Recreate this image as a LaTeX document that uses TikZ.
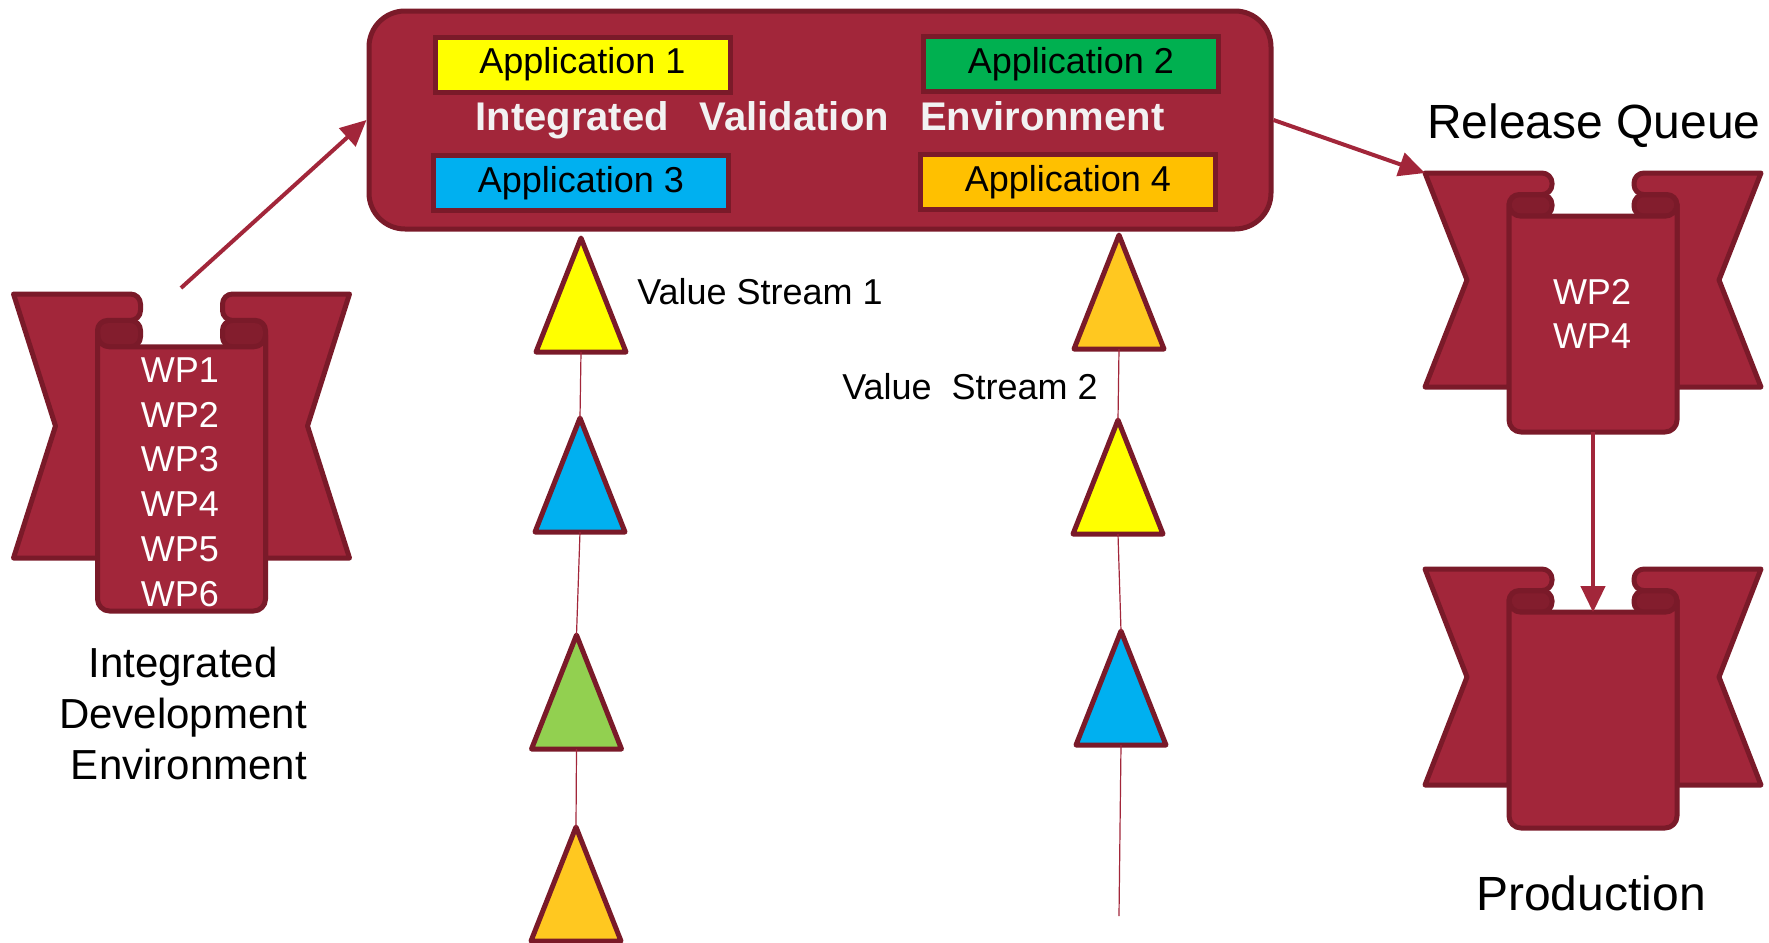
\documentclass[tikz,border=0pt]{standalone}
\usepackage{fontspec}
\setmainfont{Liberation Sans}
\usetikzlibrary{arrows.meta,shapes.geometric}

\definecolor{wine}{HTML}{A2263A}
\definecolor{winedark}{HTML}{7A1A29}
\definecolor{winedeep}{HTML}{831D2D}
\definecolor{appyellow}{HTML}{FFFF00}
\definecolor{appgreen}{HTML}{00B050}
\definecolor{appblue}{HTML}{00B0F0}
\definecolor{apporange}{HTML}{FFC000}
\definecolor{triorange}{HTML}{FFC820}
\definecolor{trigreen}{HTML}{92D050}

% name, centre x, top y, ribbon height, body height
\newcommand{\wpscroll}[5]{
	\pgfmathsetmacro{\curly}{#5/12}
	\pgfmathsetmacro{\fronty}{#5/6}
	\begin{scope}[shift={(#2,#3)}]
		\foreach \sgn in {-1,1} {
			\begin{scope}[xscale=\sgn]
				\draw [scrollline, fill=winedeep, rounded corners=5pt]
					(84,\curly) rectangle (41,\fronty);
				\draw [scrollline, fill=wine]
					(84,#4) -- (168,#4) -- (126,#4/2) -- (168,0)
					[rounded corners=5pt] -- (41,0) -- (41,\curly) -- (84,\curly)
					[sharp corners] -- cycle;
			\end{scope}
		}
		\draw [scrollline, fill=wine]
			(-84,\fronty-12) to [out=-90, in=180] (-72,\fronty) -- (72,\fronty)
			to [out=0, in=-90] (84,\fronty-12)
			[rounded corners=6pt] -- (84,#5) -- (-84,#5)
			[sharp corners] -- cycle;
		\coordinate (#1-nw) at (-168,0);
		\coordinate (#1-north) at (0,\fronty);
		\coordinate (#1-south) at (0,#5);
	\end{scope}
}

\begin{document}
\begin{tikzpicture} [x=0.5pt, y=-0.5pt,
		scrollline/.style = {draw=winedark, line width=2.5pt, line join=round},
		env/.style = {draw=winedark, fill=wine, line width=2.5pt, rounded corners=18pt,
			minimum width=451pt, minimum height=109pt, inner sep=0pt, text=black!5,
			font=\fontsize{20}{24}\selectfont\bfseries},
		app/.style = {draw=winedark, line width=2.5pt, minimum width=147.5pt,
			minimum height=27.5pt, inner sep=0pt, font=\fontsize{18}{22}\selectfont},
		commit/.style = {isosceles triangle, isosceles triangle stretches,
			shape border rotate=90, draw=winedark, line width=2.5pt, line join=round,
			minimum width=45pt, minimum height=57pt, inner sep=0pt, outer sep=0pt, anchor=apex},
		flow/.style = {draw=wine, line width=2pt, -{Triangle[length=13pt, width=12pt]}},
		stream/.style = {draw=wine, line width=0.6pt},
		wplist/.style = {text=white, align=center, font=\fontsize{18}{22.4}\selectfont},
		caption/.style = {align=center, font=\fontsize{24}{29}\selectfont},
		streamname/.style = {font=\fontsize{18}{22}\selectfont}]

	\useasboundingbox (0,0) rectangle (1769,943);

	% scrolls
	\wpscroll{ide}{181.5}{294}{264}{317}
	\wpscroll{rq}{1593}{173}{214}{259}
	\wpscroll{prod}{1593}{569}{216}{259}
	\coordinate (ide-start) at (181,288);

	\node (ide-wps) at (180,482) [wplist] {WP1\\WP2\\WP3\\WP4\\WP5\\WP6};
	\node (rq-wps) at (1592,314) [wplist] {WP2\\WP4};

	\node (ide-label) at (183,713) [align=center, font=\fontsize{21}{25.5}\selectfont]
		{Integrated\\Development\\\hspace*{0.28em}Environment};
	\node (rq-label) at (1594,126) [caption] {Release Queue};
	\node (prod-label) at (1591,893) [caption] {Production};

	% validation environment
	\node (ive) at (820,120) [env] {Integrated\hspace{10pt} Validation\hspace{10pt} Environment};
	\node (app1) at (582.5,64.5) [app, fill=appyellow] {Application 1};
	\node (app2) at (1071,64) [app, fill=appgreen] {Application 2};
	\node (app3) at (581,183) [app, fill=appblue] {Application 3};
	\node (app4) at (1068,182) [app, fill=apporange] {Application 4};

	% value streams
	\node (vsa) at (581,238) [commit, fill=appyellow] {};
	\node (vsb) at (580,418) [commit, fill=appblue] {};
	\node (vsc) at (576.5,635) [commit, fill=trigreen] {};
	\node (vsd) at (576,827) [commit, fill=triorange] {};
	\node (wsa) at (1119,235) [commit, fill=triorange] {};
	\node (wsb) at (1118,420) [commit, fill=appyellow] {};
	\node (wsc) at (1121,631) [commit, fill=appblue] {};
	\coordinate (ws-end) at (1119,916);

	\draw [stream] (vsa.lower side) -- (vsb.apex);
	\draw [stream] (vsb.lower side) -- (vsc.apex);
	\draw [stream] (vsc.lower side) -- (vsd.apex);
	\draw [stream] (wsa.lower side) -- (wsb.apex);
	\draw [stream] (wsb.lower side) -- (wsc.apex);
	\draw [stream] (wsc.lower side) -- (ws-end);

	\node (vs1-label) at (760,292) [streamname] {Value Stream 1};
	\node (vs2-label) at (970,387) [streamname] {Value\hspace{5pt} Stream 2};

	% flows
	\draw [flow] (ide-start) -- (ive.west);
	\draw [flow] (ive.east) -- (rq-nw);
	\draw [flow] (rq-south) -- (prod-north);

\end{tikzpicture}
\end{document}
